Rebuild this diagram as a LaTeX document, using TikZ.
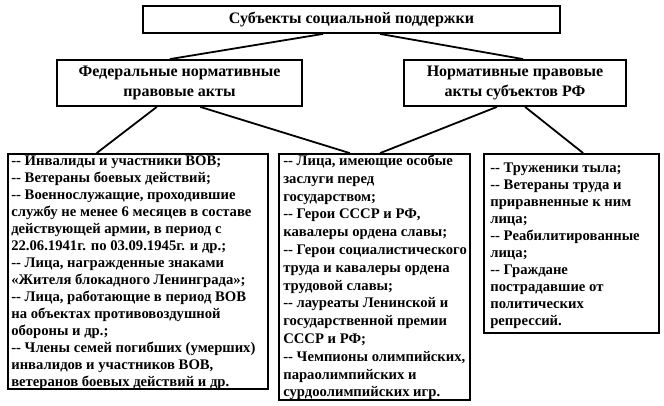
\documentclass[tikz,border=0pt]{standalone}
\usepackage{fontspec}
\setmainfont{Liberation Serif}
\usetikzlibrary{calc}
\begin{document}
\begin{tikzpicture}[x=1pt,y=-1pt,
  box/.style={draw, line width=1.8pt, inner sep=0pt, font=\bfseries\fontsize{16}{20}\selectfont, align=center},
  listbox/.style={draw, line width=1.8pt, inner sep=0pt},
  listtext/.style={inner sep=0pt, anchor=west, align=left, font=\bfseries\fontsize{14.67}{17}\selectfont},
  conn/.style={line width=1.8pt}]
\useasboundingbox (0,0) rectangle (664,405);
\fill[white] (0,0) rectangle (664,405);
\node[box, minimum width=417pt, minimum height=27pt] (top) at (351.5,19.5) {Субъекты социальной поддержки};
\node[box, minimum width=245pt, minimum height=46pt] (fed) at (179.5,83) {Федеральные нормативные\\правовые акты};
\node[box, minimum width=222pt, minimum height=46pt] (reg) at (515,83) {Нормативные правовые\\акты субъектов РФ};
\node[listbox, minimum width=260pt, minimum height=235pt] (lst1) at (138,271.5) {};
\node[listbox, minimum width=191pt, minimum height=246pt] (lst2) at (374.5,277) {};
\node[listbox, minimum width=175pt, minimum height=179pt] (lst3) at (571.5,243.5) {};
\node[listtext] (txt1) at ($(lst1.west)+(4,1)$) {%
-{}- Инвалиды и участники ВОВ;\\
-{}- Ветераны боевых действий;\\
-{}- Военнослужащие, проходившие\\
службу не менее 6 месяцев в составе\\
действующей армии, в период с\\
22.06.1941г. по 03.09.1945г. и др.;\\
-{}- Лица, награжденные знаками\\
«Жителя блокадного Ленинграда»;\\
-{}- Лица, работающие в период ВОВ\\
на объектах противовоздушной\\
обороны и др.;\\
-{}- Члены семей погибших (умерших)\\
инвалидов и участников ВОВ,\\
ветеранов боевых действий и др.};
\node[listtext, font=\bfseries\fontsize{14.67}{17.8}\selectfont] (txt2) at ($(lst2.west)+(5,0.5)$) {%
-{}- Лица, имеющие особые\\
заслуги перед\\
государством;\\
-{}- Герои СССР и РФ,\\
кавалеры ордена славы;\\
-{}- Герои социалистического\\
труда и кавалеры ордена\\
трудовой славы;\\
-{}- лауреаты Ленинской и\\
государственной премии\\
СССР и РФ;\\
-{}- Чемпионы олимпийских,\\
параолимпийских и\\
сурдоолимпийских игр.};
\node[listtext] (txt3) at ($(lst3.west)+(7,2)$) {%
-{}- Труженики тыла;\\
-{}- Ветераны труда и\\
приравненные к ним\\
лица;\\
-{}- Реабилитированные\\
лица;\\
-{}- Граждане\\
пострадавшие от\\
политических\\
репрессий.};
% connectors
\draw[conn] ($(top.south west)!0.432!(top.south east)$) -- ($(fed.north west)!0.461!(fed.north east)$);
\draw[conn] ($(top.south west)!0.568!(top.south east)$) -- ($(reg.north west)!0.536!(reg.north east)$);
\draw[conn] ($(fed.south west)!0.408!(fed.south east)$) -- ($(lst1.north west)!0.342!(lst1.north east)$);
\draw[conn] ($(fed.south west)!0.584!(fed.south east)$) -- ($(lst2.north west)!0.372!(lst2.north east)$);
\draw[conn] ($(reg.south west)!0.419!(reg.south east)$) -- ($(lst2.north west)!0.529!(lst2.north east)$);
\draw[conn] ($(reg.south west)!0.545!(reg.south east)$) -- ($(lst3.north west)!0.566!(lst3.north east)$);
\end{tikzpicture}
\end{document}
